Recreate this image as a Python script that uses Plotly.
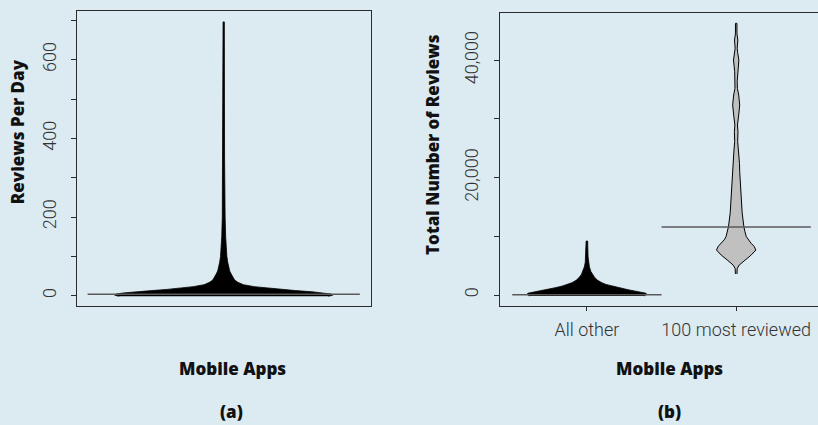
import plotly.graph_objects as go

W, H = 818, 425
BG = "#dceaf2"

# ---- (a) reviews per day, all mobile apps: bean outline (value, relative density)
rpd_values = [-1.5, 1, 4, 7, 10, 13, 16, 19, 23, 28, 34, 40, 47, 55, 63, 72, 85,
              100, 120, 150, 200, 260, 350, 500, 696]
rpd_density = [0.96, 1.0, 0.99, 0.92, 0.81, 0.66, 0.52, 0.39, 0.28, 0.18, 0.13, 0.10,
               0.083, 0.069, 0.055, 0.046, 0.037, 0.029, 0.023, 0.018, 0.013, 0.010,
               0.008, 0.007, 0.006]
rpd_median = 3.5

# ---- (b) total number of reviews, split into two groups
groups_b = ["All other", "100 most reviewed"]

other_values = [-170, 100, 300, 500, 700, 900, 1200, 1500, 1800, 2100, 2500, 3000,
                3500, 4000, 4800, 5600, 6500, 7500, 8400, 9200]
other_density = [0.96, 1.0, 0.99, 0.91, 0.79, 0.69, 0.55, 0.42, 0.32, 0.25, 0.18,
                 0.13, 0.092, 0.067, 0.042, 0.027, 0.020, 0.017, 0.015, 0.013]
other_median = 50

top_values = [3580, 4500, 5100, 5500, 5966, 6800, 7670, 8300, 8810, 9400, 9940,
              10800, 11640, 14000, 16190, 19030, 21000, 22440, 23860, 24710, 26130,
              27840, 28980, 30680, 32380, 34090, 35220, 36360, 38060, 40060, 41300,
              42050, 43460, 44500, 46310]
top_density = [0.013, 0.017, 0.05, 0.10, 0.15, 0.25, 0.33, 0.30, 0.25, 0.20, 0.17,
               0.146, 0.129, 0.10, 0.084, 0.067, 0.059, 0.055, 0.042, 0.037, 0.025,
               0.030, 0.022, 0.042, 0.059, 0.042, 0.020, 0.017, 0.025, 0.045, 0.025,
               0.017, 0.028, 0.013, 0.012]
top_median = 11600

ticks_a = [0, 100, 200, 300, 400, 500, 600, 700]
labels_a = ["0", "", "200", "", "400", "", "600", ""]
ticks_b = [0, 10000, 20000, 30000, 40000]
labels_b = ["0", "", "20,000", "", "40,000"]

MAXHALF = 0.4  # half of the maximum bean width


def bean(center, values, density, fill, outline, lw, xa, ya):
    right = [center + MAXHALF * d for d in density]
    left = [center - MAXHALF * d for d in density][::-1]
    return go.Scatter(
        x=right + left,
        y=list(values) + list(values)[::-1],
        mode="lines", fill="toself", fillcolor=fill,
        line=dict(color=outline, width=lw),
        xaxis=xa, yaxis=ya, hoverinfo="skip", showlegend=False,
    )


def bean_line(center, value, xa, ya):
    return go.Scatter(
        x=[center - 0.5, center + 0.5], y=[value, value], mode="lines",
        line=dict(color="#5a5a5a", width=1.5),
        xaxis=xa, yaxis=ya, hoverinfo="skip", showlegend=False,
    )


fig = go.Figure()
fig.add_trace(bean(1, rpd_values, rpd_density, "black", "black", 0.8, "x", "y"))
fig.add_trace(bean_line(1, rpd_median, "x", "y"))
fig.add_trace(bean(1, other_values, other_density, "black", "black", 0.8, "x2", "y2"))
fig.add_trace(bean(2, top_values, top_density, "#c0c0c0", "black", 1, "x2", "y2"))
fig.add_trace(bean_line(1, other_median, "x2", "y2"))
fig.add_trace(bean_line(2, top_median, "x2", "y2"))

AX = "#2b2b2b"
tickfont = dict(family="Roboto", size=18, color="#333333", weight=300)

fig.update_layout(
    width=W, height=H,
    margin=dict(l=0, r=0, t=0, b=0),
    paper_bgcolor=BG, plot_bgcolor=BG,
    font=dict(family="Roboto", color="#111111"),
    xaxis=dict(
        domain=[76.7 / W, 370.7 / W], range=[0.46, 1.54],
        showline=True, mirror=True, linecolor=AX, linewidth=1,
        showgrid=False, zeroline=False, showticklabels=False, ticks="",
    ),
    yaxis=dict(
        domain=[1 - 306 / H, 1 - 10.7 / H], range=[-26.2, 724.6],
        showline=True, mirror=True, linecolor=AX, linewidth=1,
        showgrid=False, zeroline=False,
        tickmode="array", tickvals=ticks_a, ticktext=labels_a,
        ticks="outside", ticklen=5, tickcolor=AX, tickwidth=1,
        tickangle=-90, tickfont=tickfont, ticklabelstandoff=8,
    ),
    xaxis2=dict(
        domain=[500.3 / W, 1.0], range=[0.42, 2.548], anchor="y2",
        showline=True, mirror=True, linecolor=AX, linewidth=1,
        showgrid=False, zeroline=False,
        tickmode="array", tickvals=[1, 2], ticktext=groups_b,
        ticks="outside", ticklen=4, tickcolor=AX, tickwidth=1,
        tickfont=tickfont, ticklabelstandoff=3,
    ),
    yaxis2=dict(
        domain=[1 - 306 / H, 1 - 12.7 / H], range=[-1875, 48117], anchor="x2",
        showline=True, mirror=False, linecolor=AX, linewidth=1,
        showgrid=False, zeroline=False,
        tickmode="array", tickvals=ticks_b, ticktext=labels_b,
        ticks="outside", ticklen=5, tickcolor=AX, tickwidth=1,
        tickangle=-90, tickfont=tickfont, ticklabelstandoff=9,
    ),
)


def label(text, px, py, angle=0, size=17):
    fig.add_annotation(
        text=text, x=px / W, y=1 - py / H, xref="paper", yref="paper",
        xanchor="center", yanchor="middle", showarrow=False, textangle=angle,
        borderpad=0,
        font=dict(family="Open Sans", size=size, color="#111111", weight=800),
    )


label("Reviews Per Day", 17.5, 131.7, angle=-90)
label("Total Number of Reviews", 432, 145, angle=-90)
label("Mobile Apps", 232.5, 368)
label("Mobile Apps", 669.7, 368)
label("(a)", 232, 411)
label("(b)", 669.7, 411)

fig.write_html("out.html")
